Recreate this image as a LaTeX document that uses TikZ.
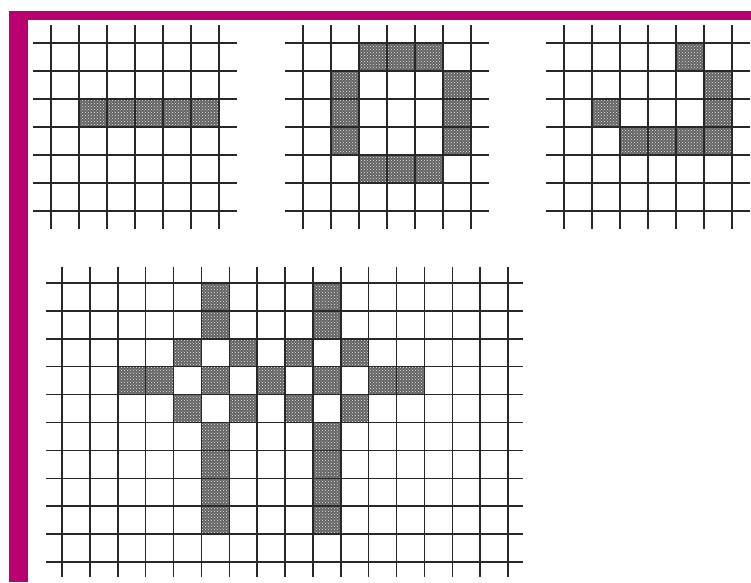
\documentclass[tikz,border=0pt]{standalone}
\usepackage{tikz}
\usetikzlibrary{patterns}
\definecolor{FrameMagenta}{RGB}{186,0,110}
\definecolor{GridLine}{RGB}{40,40,40}
\tikzset{
  gline/.style={draw=GridLine,line width=1.5pt},
  cell/.style={fill=black!62,postaction={pattern=crosshatch dots,pattern color=white!85!gray}},
  frame/.style={fill=FrameMagenta},
}

\begin{document}
\begin{tikzpicture}[x=1pt,y=-1pt]
  \useasboundingbox (0,0) rectangle (751,582);
  % magenta frame
  \fill[frame] (9,11) rectangle (751,20);
  \fill[frame] (9,11) rectangle (28,582);

  % grid 1: horizontal bar
  \begin{scope}[shift={(51pt,-43pt)},x=28pt,y=-28pt]
    \foreach \c in {1,...,5} \fill[cell] (\c,2) rectangle +(1,1);
    \foreach \i in {0,...,6} {
      \draw[gline] (\i,-0.64) -- (\i,6.64);
      \draw[gline] (-0.64,\i) -- (6.64,\i);
    }
  \end{scope}

  % grid 2: ring
  \begin{scope}[shift={(303pt,-43pt)},x=28pt,y=-28pt]
    \foreach \c in {2,3,4} {
      \fill[cell] (\c,0) rectangle +(1,1);
      \fill[cell] (\c,4) rectangle +(1,1);
    }
    \foreach \r in {1,2,3} {
      \fill[cell] (1,\r) rectangle +(1,1);
      \fill[cell] (5,\r) rectangle +(1,1);
    }
    \foreach \i in {0,...,6} {
      \draw[gline] (\i,-0.64) -- (\i,6.64);
      \draw[gline] (-0.64,\i) -- (6.64,\i);
    }
  \end{scope}

  % grid 3: hook
  \begin{scope}[shift={(564pt,-43pt)},x=28pt,y=-28pt]
    \foreach \c/\r in {4/0,5/1,1/2,5/2,2/3,3/3,4/3,5/3}
      \fill[cell] (\c,\r) rectangle +(1,1);
    \foreach \i in {0,...,6} {
      \draw[gline] (\i,-0.64) -- (\i,6.64);
      \draw[gline] (-0.64,\i) -- (6.64,\i);
    }
  \end{scope}

  % grid 4: large pattern
  \begin{scope}[shift={(62pt,-283pt)},x=27.875pt,y=-27.9pt]
    \foreach \c in {5,9} {
      \foreach \r in {0,1,3,5,6,7,8} \fill[cell] (\c,\r) rectangle +(1,1);
    }
    \foreach \c in {4,6,8,10} {
      \fill[cell] (\c,2) rectangle +(1,1);
      \fill[cell] (\c,4) rectangle +(1,1);
    }
    \foreach \c in {2,3,7,11,12} \fill[cell] (\c,3) rectangle +(1,1);
    \foreach \i in {0,...,16} \draw[gline] (\i,-0.57) -- (\i,10.55);
    \foreach \j in {0,...,10} \draw[gline] (-0.57,\j) -- (16.55,\j);
  \end{scope}
\end{tikzpicture}
\end{document}
